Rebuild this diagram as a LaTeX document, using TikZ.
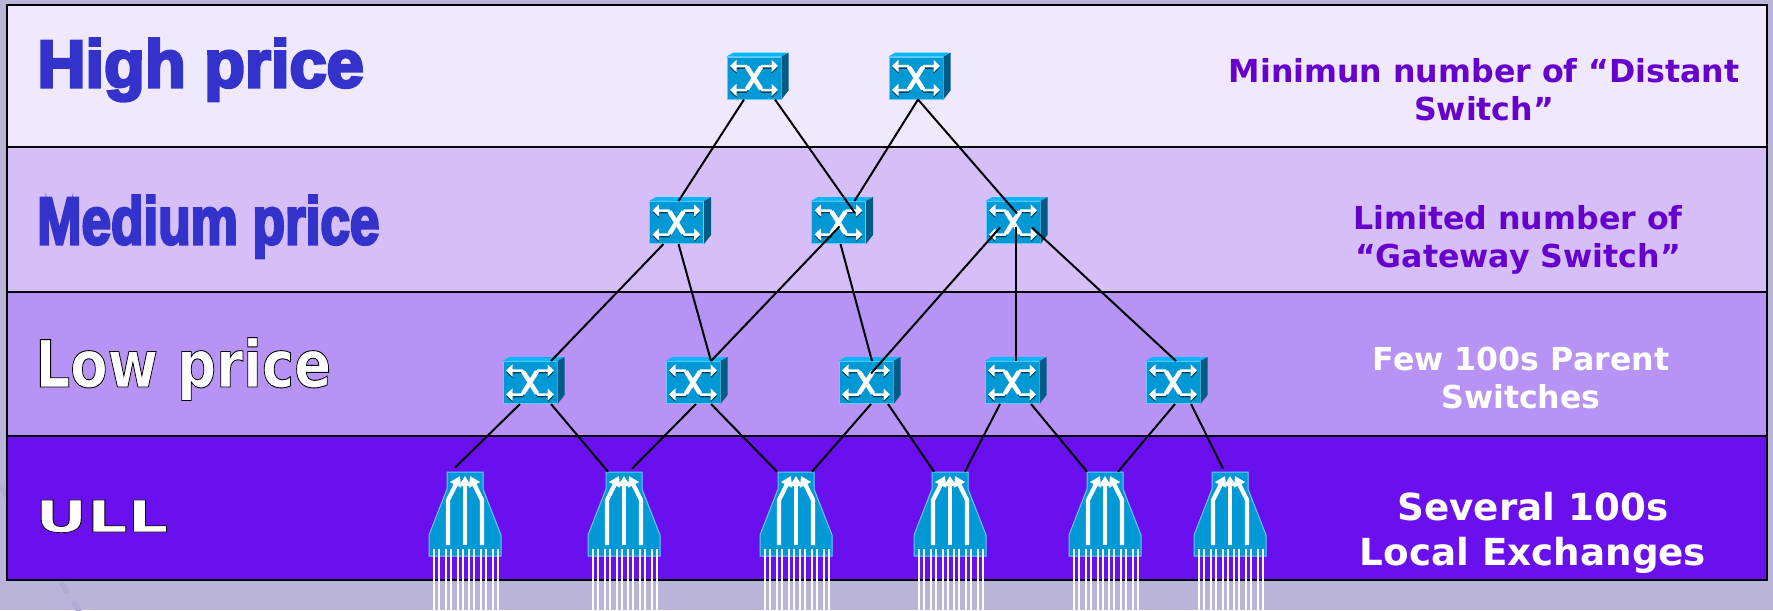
\documentclass[tikz,border=0pt]{standalone}
\usepackage{fontspec}
\usetikzlibrary{arrows.meta,calc}
\setmainfont{DejaVu Sans}
\newfontfamily\priceFont[BoldFeatures={FakeBold=4.5}]{Liberation Sans}
\newfontfamily\plainFont[BoldFeatures={FakeBold=1.4}]{DejaVu Sans}
\definecolor{mPage}{HTML}{BAB5D8}
\definecolor{mTrace}{HTML}{AFABD3}
\definecolor{mHigh}{HTML}{F0E8FC}
\definecolor{mMedium}{HTML}{D6BFF8}
\definecolor{mLow}{HTML}{B793F5}
\definecolor{mUll}{HTML}{6A10EE}
\definecolor{mPrice}{HTML}{3333CC}
\definecolor{mNote}{HTML}{6600CC}
\definecolor{mFront}{HTML}{0099D6}
\definecolor{mTop}{HTML}{00B8FF}
\definecolor{mSide}{HTML}{005B85}
\definecolor{mEdge}{HTML}{66CCFF}
% white letters, stroked in black
\newcommand{\blackedge}{\color{white}\special{pdf:code 0 0 0 RG}}
\tikzset{
  band/.style={draw=black,line width=0.04cm},
  link/.style={draw=black,line width=0.04cm},
  switchfront/.style={rectangle,draw=mEdge,fill=mFront,line width=0.02cm,
    minimum width=1.08cm,minimum height=0.84cm,inner sep=0pt},
  exchangebox/.style={rectangle,inner sep=0pt,minimum width=1.44cm,minimum height=1.68cm},
  pricelabel/.style={anchor=base west,inner sep=0pt},
  note/.style={align=center,font=\bfseries\fontsize{18}{21.5}\selectfont,text=mNote},
  whitearrow/.style={white,line width=0.085cm,-{Triangle[length=0.2cm,width=0.24cm]}},
  swarrow/.style={line width=0.05cm,{Triangle[length=0.13cm,width=0.24cm]}-{Triangle[length=0.13cm,width=0.24cm]}},
}
% one switch: name, x, y
\newcommand{\switchicon}[3]{
  \node[switchfront] (#1) at (#2,#3) {};
  \fill[mTop] (#1.north west) -- ++(7,-4) -- ++(54,0) -- (#1.north east) -- cycle;
  \fill[mSide] (#1.north east) -- ++(7,-4) -- ++(0,38) -- (#1.south east) -- cycle;
  \foreach \sgn in {1,-1} {
    \draw[swarrow,black!60!mFront] (#2-24,#3-12*\sgn+1.5) -- (#2-8,#3-12*\sgn+1.5) -- (#2+8,#3+12*\sgn+1.5) -- (#2+24,#3+12*\sgn+1.5);
    \draw[swarrow,white] (#2-24,#3-12*\sgn) -- (#2-8,#3-12*\sgn) -- (#2+8,#3+12*\sgn) -- (#2+24,#3+12*\sgn);
    \draw[white,line width=0.09cm] (#2-7,#3-11*\sgn) -- (#2+7,#3+11*\sgn);
  }
}
% one local exchange: name, x
\newcommand{\exchangeicon}[2]{
  \node[exchangebox] (#1) at (#2,514) {};
  \fill[mFront,draw=mEdge,line width=0.02cm] (#2-18,472) -- (#2+18,472) -- (#2+18,489)
    -- (#2+36,535) -- (#2+36,556) -- (#2-36,556) -- (#2-36,535) -- (#2-18,489) -- cycle;
  \draw[whitearrow] (#2,545) -- (#2,476);
  \draw[whitearrow] (#2-17,545) -- (#2-17,500) -- (#2-5,476);
  \draw[whitearrow] (#2+17,545) -- (#2+17,500) -- (#2+5,476);
  \foreach \dx in {-31,-26,-19,-14,-7,-2,4,9,16,21,28,33}
    \draw[white,line width=0.05cm] (#2+\dx,549) -- (#2+\dx,610);
}

\begin{document}
\begin{tikzpicture}[x=0.02cm,y=-0.02cm]
\useasboundingbox (0,0) rectangle (1773,610);
\fill[mPage] (0,0) rectangle (1773,610);
\draw[mTrace,line width=0.1cm,dash pattern=on 0.26cm off 0.2cm] (0,485) -- (82,616);

% price bands
\filldraw[band,fill=mHigh] (7,5) rectangle (1767,147);
\filldraw[band,fill=mMedium] (7,147) rectangle (1767,292);
\filldraw[band,fill=mLow] (7,292) rectangle (1767,436);
\filldraw[band,fill=mUll] (7,436) rectangle (1767,580);

\node[pricelabel,text=mPrice] (high) at (37,87) {\priceFont\bfseries\fontsize{38}{40}\selectfont High price};
\node[pricelabel,text=mPrice] (medium) at (37,244) {\priceFont\bfseries\fontsize{38}{40}\selectfont\scalebox{.795}[1]{Medium price}};
\node[pricelabel] (low) at (35,387) {\plainFont\bfseries\fontsize{37}{40}\selectfont\scalebox{.84}[1]{\blackedge Low price}};
\node[pricelabel] (ull) at (35,532) {\plainFont\bfseries\fontsize{25}{28}\selectfont\scalebox{1.45}[1]{\blackedge ULL}};

\node[note] (distant) at (1484,90) {Minimun number of “Distant\\Switch”};
\node[note] (gateway) at (1518,240) {Limited number of\\“Gateway Switch”};
\node[note,text=white] (parent) at (1521,378) {Few 100s Parent\\Switches};
\node[note,text=white,font=\bfseries\fontsize{21.2}{25.7}\selectfont] (local) at (1533,533) {Several 100s\\Local Exchanges};

% switches
\switchicon{dsa}{754}{78}
\switchicon{dsb}{916}{78}
\switchicon{gwa}{676.5}{222.5}
\switchicon{gwb}{838.5}{222.5}
\switchicon{gwc}{1013}{222.5}
\switchicon{psa}{530}{382.5}
\switchicon{psb}{693}{382.5}
\switchicon{psc}{866}{382.5}
\switchicon{psd}{1012}{382.5}
\switchicon{pse}{1173}{382.5}

% exchanges
\exchangeicon{exa}{465}
\exchangeicon{exb}{624}
\exchangeicon{exc}{796}
\exchangeicon{exd}{950}
\exchangeicon{exe}{1105}
\exchangeicon{exf}{1230}

% links
\draw[link] ($(dsa.south)+(-10,0)$) -- ($(gwa.north)+(2,0)$);
\draw[link] ($(dsa.south)+(21,0)$) -- ($(gwb)+(16,-10)$);
\draw[link] ($(dsb.south)+(2,0)$) -- ($(gwb.north)+(16,0)$);
\draw[link] ($(dsb.south)+(2,0)$) -- ($(gwc)+(4,-9)$);
\draw[link] ($(gwa.south)+(-13,0)$) -- ($(psa.north)+(21,0)$);
\draw[link] ($(gwa.south)+(2,0)$) -- ($(psb.north)+(18,0)$);
\draw[link] ($(gwb)+(1,4)$) -- ($(psb.north)+(18,0)$);
\draw[link] ($(gwb.south)+(2,0)$) -- ($(psc.north)+(6,0)$);
\draw[link] ($(gwc)+(-13,5)$) -- ($(psc)+(5,-9)$);
\draw[link] ($(gwc)+(3,4)$) -- ($(psd.north)+(4,0)$);
\draw[link] ($(gwc)+(19,5)$) -- ($(pse.north)+(3,0)$);
\draw[link] ($(psa.south)+(-10,0)$) -- ($(exa.north)+(-10,-4)$);
\draw[link] ($(psa.south)+(21,0)$) -- ($(exb.north)+(-16,0)$);
\draw[link] ($(psb.south)+(3,0)$) -- ($(exb.north)+(8,-3)$);
\draw[link] ($(psb.south)+(18,0)$) -- ($(exc.north)+(-19,0)$);
\draw[link] ($(psc.south)+(5,0)$) -- ($(exc.north)+(16,0)$);
\draw[link] ($(psc.south)+(22,0)$) -- ($(exd.north)+(-16,0)$);
\draw[link] ($(psd.south)+(-12,0)$) -- ($(exd.north)+(15,0)$);
\draw[link] ($(psd.south)+(19,0)$) -- ($(exe.north)+(-18,0)$);
\draw[link] ($(pse.south)+(2,0)$) -- ($(exe.north)+(13,0)$);
\draw[link] ($(pse.south)+(18,0)$) -- ($(exf.north)+(-7,-3)$);
\end{tikzpicture}
\end{document}
